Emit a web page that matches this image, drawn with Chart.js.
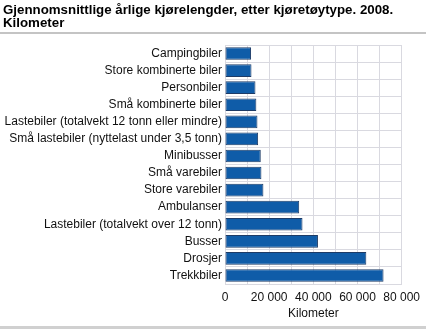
<!DOCTYPE html>
<html>
<head>
<meta charset="utf-8">
<script src="https://cdn.jsdelivr.net/npm/chart.js@4"></script>
<style>
  body { margin: 0; background: #fff; }
  #wrap { position: relative; width: 426px; height: 329px; overflow: hidden; }
  #title {
    position: absolute; left: 3px; top: 3px;
    font: bold 13.3px "Liberation Sans", Arial, sans-serif;
    line-height: 13px; color: #000;
  }
  #rule { position: absolute; left: 0; top: 32px; width: 426px; height: 2px; background: #c4c4c4; }
  #foot { position: absolute; left: 0; top: 326px; width: 426px; height: 3px; background: #d0d0d0; }
  canvas { position: absolute; left: 0; top: 0; }
</style>
</head>
<body>
<div id="wrap">
  <canvas id="myChart" width="426" height="329"></canvas>
  <div id="title">Gjennomsnittlige årlige kjørelengder, etter kjøretøytype. 2008.<br>Kilometer</div>
  <div id="rule"></div>
  <div id="foot"></div>
</div>
<script>
// kjøretøytyper (ovenfra og ned)
const categories = [
  'Campingbiler',
  'Store kombinerte biler',
  'Personbiler',
  'Små kombinerte biler',
  'Lastebiler (totalvekt 12 tonn eller mindre)',
  'Små lastebiler (nyttelast under 3,5 tonn)',
  'Minibusser',
  'Små varebiler',
  'Store varebiler',
  'Ambulanser',
  'Lastebiler (totalvekt over 12 tonn)',
  'Busser',
  'Drosjer',
  'Trekkbiler'
];
// km per år
const kilometers = [11800, 12000, 13800, 14200, 14700, 15000, 16200, 16500, 17400, 33600, 35100, 42100, 64000, 71800];
const xMax = 80000;
const xStep = 10000;
const axisTitle = 'Kilometer';

function fmt(v) {
  return String(v).replace(/\B(?=(\d{3})+(?!\d))/g, ' ');
}

const font = { family: '"Liberation Sans", Arial, sans-serif', size: 12 };

new Chart(document.getElementById('myChart'), {
  type: 'bar',
  data: {
    labels: categories,
    datasets: [{
      data: kilometers,
      backgroundColor: '#0f5ca8',
      borderColor: '#1d3b66',
      borderWidth: 1,
      borderSkipped: false,
      barPercentage: 0.74,
      categoryPercentage: 1
    }]
  },
  options: {
    indexAxis: 'y',
    responsive: false,
    animation: false,
    layout: { padding: { top: 45, right: 23, bottom: 8, left: 0 } },
    plugins: { legend: { display: false }, tooltip: { enabled: false } },
    scales: {
      x: {
        min: 0, max: xMax,
        ticks: {
          stepSize: xStep, color: '#111', font: font, padding: 6,
          maxRotation: 0, autoSkip: false,
          callback: v => (v % 20000 === 0 ? fmt(v) : '')
        },
        grid: { color: '#d9d9e0', drawTicks: false },
        border: { color: '#d9d9e0' },
        title: { display: true, text: axisTitle, color: '#111', font: font, padding: { top: 0, bottom: 0 } },
        afterFit: s => { s.height = 37; }
      },
      y: {
        ticks: { color: '#111', font: font, padding: 3, autoSkip: false },
        grid: { color: '#d9d9e0', drawTicks: false, offset: true },
        border: { color: '#d9d9e0' },
        afterFit: s => { s.width = 225; }
      }
    }
  }
});
</script>
</body>
</html>
